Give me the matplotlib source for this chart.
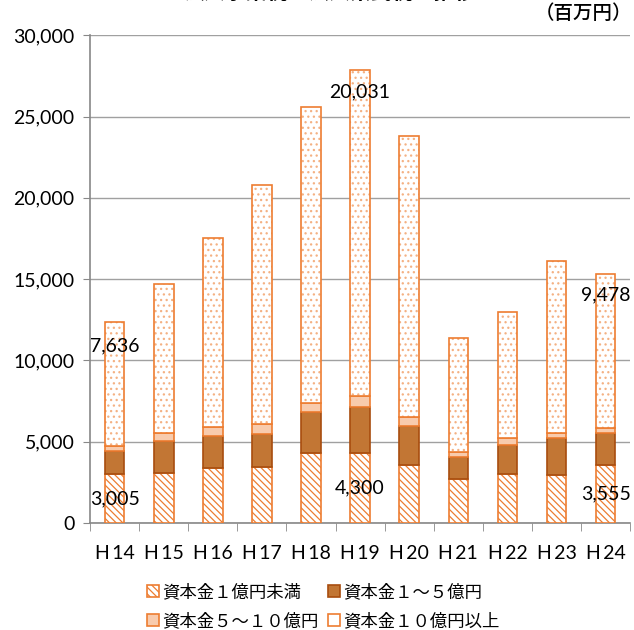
import matplotlib.pyplot as plt
import numpy as np

plt.rcParams['font.family'] = ['Lato', 'Noto Sans CJK JP', 'DejaVu Sans']
plt.rcParams['hatch.linewidth'] = 0.9

# data (百万円)
years = ['H\u200914', 'H\u200915', 'H\u200916', 'H\u200917', 'H\u200918', 'H\u200919',
         'H\u200920', 'H\u200921', 'H\u200922', 'H\u200923', 'H\u200924']
under_1 = [3005, 3050, 3360, 3420, 4280, 4300, 3560, 2690, 2990, 2950, 3555]
from_1_to_5 = [1430, 2010, 2010, 2050, 2560, 2810, 2400, 1350, 1800, 2290, 1955]
from_5_to_10 = [280, 450, 510, 610, 550, 700, 540, 340, 450, 310, 350]
over_10 = [7636, 9180, 11640, 14690, 18180, 20031, 17290, 6970, 7710, 10570, 9478]
series_names = ['資本金１億円未満', '資本金１～５億円', '資本金５～１０億円', '資本金１０億円以上']

orange = '#ED7D31'
x = np.arange(len(years))
w = 0.4

fig = plt.figure(figsize=(6.34, 6.30), dpi=100)
ax = fig.add_axes([0.142, 0.170, 0.852, 0.774])

b0 = np.zeros(len(years))
b1 = b0 + np.array(under_1)
b2 = b1 + np.array(from_1_to_5)
b3 = b2 + np.array(from_5_to_10)

# hatched segment
h1 = ax.bar(x, under_1, w, bottom=b0, color='white', edgecolor=orange, hatch='\\\\\\\\\\', linewidth=1.2, zorder=3)
h2 = ax.bar(x, from_1_to_5, w, bottom=b1, color='#C27634', edgecolor='#A84D0E', linewidth=1.2, zorder=3)
h3 = ax.bar(x, from_5_to_10, w, bottom=b2, color='#F8CBAD', edgecolor=orange, linewidth=1.2, zorder=3)
# dotted top segment: dots first, then the border
ax.bar(x, over_10, w, bottom=b3, color='white', edgecolor='#F4B183', hatch='...', linewidth=0, zorder=3)
h4 = ax.bar(x, over_10, w, bottom=b3, color='none', edgecolor=orange, linewidth=1.2, zorder=4)

# data labels
ax.text(x[0], under_1[0] / 2, f'{under_1[0]:,}', ha='center', va='center', fontsize=14, zorder=5)
ax.text(x[5], under_1[5] / 2, f'{under_1[5]:,}', ha='center', va='center', fontsize=14, zorder=5)
ax.text(x[10], under_1[10] / 2, f'{under_1[10]:,}', ha='center', va='center', fontsize=14, zorder=5)
ax.text(x[0], 10900, f'{over_10[0]:,}', ha='center', va='center', fontsize=14, zorder=5)
ax.text(x[5], 26500, f'{over_10[5]:,}', ha='center', va='center', fontsize=14, zorder=5)
ax.text(x[10], 14000, f'{over_10[10]:,}', ha='center', va='center', fontsize=14, zorder=5)

ax.set_ylim(0, 30000)
ax.set_xlim(-0.5, len(years) - 0.5)
ax.set_yticks(np.arange(0, 30001, 5000))
ax.set_yticklabels([f'{v:,}' for v in range(0, 30001, 5000)], fontsize=14)
ax.set_xticks(x)
ax.set_xticklabels(years, fontsize=14)
ax.tick_params(axis='x', length=0, pad=16)
ax.set_xticks(np.arange(-0.5, len(years)), minor=True)
ax.tick_params(axis='x', which='minor', length=6, color='#888888')
ax.tick_params(axis='y', length=5, color='#888888', pad=6)
ax.grid(axis='y', color='#A0A0A0', linewidth=1, zorder=0)
for s in ['top', 'right']:
    ax.spines[s].set_visible(False)
for s in ['left', 'bottom']:
    ax.spines[s].set_color('#888888')
    ax.spines[s].set_linewidth(1.2)

handles = [h1, h3, h2, h4]
labels = [series_names[0], series_names[2], series_names[1], series_names[3]]
fig.legend(handles, labels, ncol=2, loc='center', bbox_to_anchor=(0.51, 0.037),
           frameon=False, handlelength=0.7, handleheight=0.7,
           handletextpad=0.2, columnspacing=0.5, labelspacing=0.6,
           prop={'family': ['Noto Sans CJK JP'], 'size': 12.5})

fig.text(0.52, 1.0 + 0.012, '法人事業税・法人県民税の推移', ha='center', va='center',
         fontsize=15, fontweight='bold')
fig.text(0.997, 0.978, '（百万円）', ha='right', va='center', fontsize=14,
         fontweight='medium', family=['Noto Sans CJK JP'])

fig.savefig('out.png', dpi=100)
